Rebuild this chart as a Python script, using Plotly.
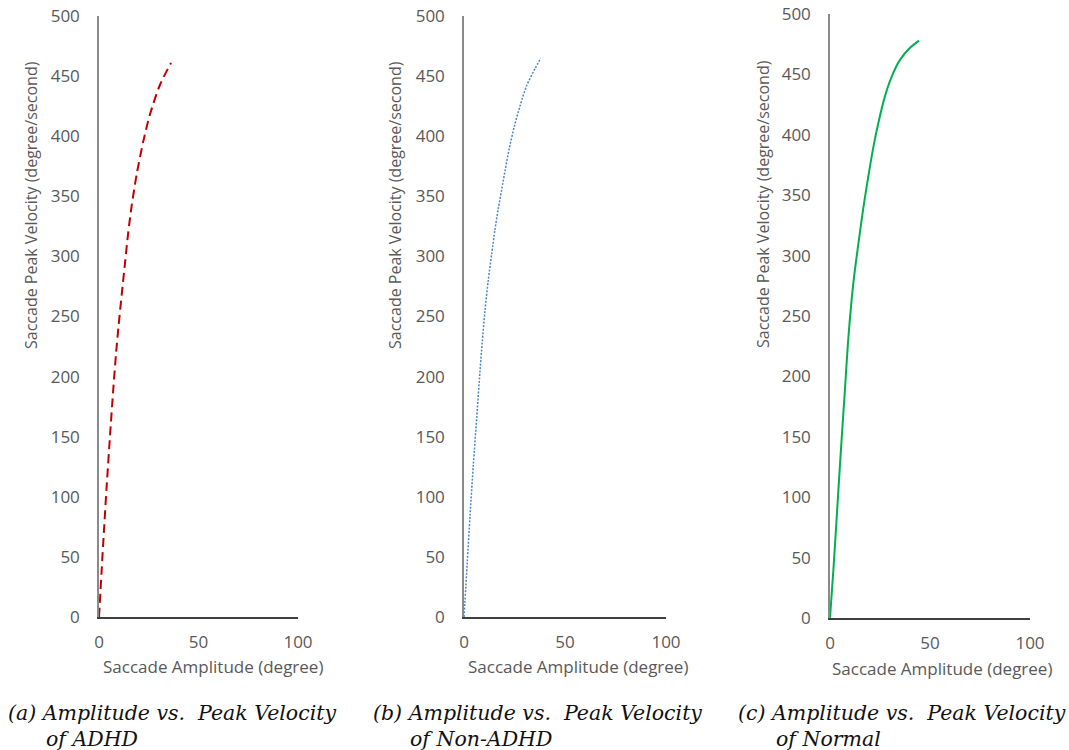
import plotly.graph_objects as go

# ---- data ----
amp_adhd = [0, 1.3, 2.5, 3.9, 5.5, 7.2, 8.6, 9.7, 11.4, 13.1, 14.7, 16.4, 18.9, 22.3, 25.6, 30.7, 36.2]
vel_adhd = [0, 38, 72, 110, 150, 190, 220, 240, 268, 295, 320, 342, 368, 396, 418, 443, 461]

amp_non = [0, 1.6, 3.0, 4.6, 6.3, 7.9, 9.0, 10.4, 12.0, 13.7, 15.3, 17.0, 18.7, 20.3, 22.3, 24.9, 27.7, 31.0, 35.1, 38.0]
vel_non = [0, 45, 85, 126, 166, 204, 228, 255, 280, 302, 322, 340, 356, 371, 389, 408, 425, 442, 456, 465]

amp_norm = [0, 1.7, 3.3, 5.3, 7.5, 9.0, 10.5, 12.0, 14.2, 16.7, 19.2, 21.7, 24.2, 27.5, 30.8, 35.0, 40.0, 44.5]
vel_norm = [0, 40, 82, 135, 190, 228, 258, 282, 310, 340, 366, 390, 410, 432, 448, 462, 472, 478]

x_ticks = [0, 50, 100]
y_ticks = [0, 50, 100, 150, 200, 250, 300, 350, 400, 450, 500]

x_title = "Saccade Amplitude (degree)"
y_title = "Saccade Peak Velocity (degree/second)"
captions = [("(a) Amplitude vs.&nbsp; Peak Velocity", "of ADHD"),
            ("(b) Amplitude vs.&nbsp; Peak Velocity", "of Non-ADHD"),
            ("(c) Amplitude vs.&nbsp; Peak Velocity", "of Normal")]

W, H = 1069, 750
TICK_COLOR = "#595959"
FONT = "Open Sans"
CAP_FONT = "DejaVu Serif"


def px(x):
    return x / W


def py(y):
    return 1 - y / H


fig = go.Figure()

fig.add_trace(go.Scatter(x=amp_adhd, y=vel_adhd, mode="lines", xaxis="x", yaxis="y",
                         line=dict(color="#C00000", width=2, dash="9px,5px", shape="spline", smoothing=0.8),
                         showlegend=False))
fig.add_trace(go.Scatter(x=amp_non, y=vel_non, mode="lines", xaxis="x2", yaxis="y2",
                         line=dict(color="#4A86C8", width=1.5, dash="2px,1.5px", shape="spline", smoothing=0.8),
                         showlegend=False))
fig.add_trace(go.Scatter(x=amp_norm, y=vel_norm, mode="lines", xaxis="x3", yaxis="y3",
                         line=dict(color="#00B050", width=2, shape="spline", smoothing=0.8),
                         showlegend=False))

# panel pixel geometry: (x0px, x100px, y0px, y500px)
panels = [(99, 298, 617, 16), (464, 666, 617, 16), (830, 1030, 618, 14)]

layout = dict(width=W, height=H, margin=dict(l=0, r=0, t=0, b=0, autoexpand=False),
              paper_bgcolor="white", plot_bgcolor="white", showlegend=False)

for i, (x0, x1, y0, y1) in enumerate(panels):
    sfx = "" if i == 0 else str(i + 1)
    xd = [px(x0), px(x1)]
    yd = [py(y0), py(y1)]
    layout["xaxis" + sfx] = dict(domain=xd, range=[0, 100], tickvals=x_ticks, anchor="y" + sfx,
                                 showgrid=False, zeroline=False, showline=True,
                                 linecolor="#404040", linewidth=1.5, ticks="",
                                 ticklabelstandoff=9, automargin=False, ticklabeloverflow="allow",
                                 tickfont=dict(family=FONT, size=17, color=TICK_COLOR))
    layout["yaxis" + sfx] = dict(domain=yd, range=[0, 500], tickvals=y_ticks, anchor="x" + sfx,
                                 showgrid=False, zeroline=False, showline=True,
                                 linecolor="#8a8a8a", linewidth=1.5, ticks="",
                                 ticklabelstandoff=14, automargin=False, ticklabeloverflow="allow",
                                 tickfont=dict(family=FONT, size=17, color=TICK_COLOR))

fig.update_layout(**layout)

# axis titles
xt_pos = [(213, 666), (578, 666), (942, 668)]
yt_pos = [(31, 205), (395, 205), (763, 204)]
for (cx, cy) in xt_pos:
    fig.add_annotation(text=x_title, x=px(cx), y=py(cy), xref="paper", yref="paper",
                       showarrow=False, xanchor="center", yanchor="middle",
                       font=dict(family=FONT, size=17, color=TICK_COLOR))
for (cx, cy) in yt_pos:
    fig.add_annotation(text=y_title, x=px(cx), y=py(cy), xref="paper", yref="paper",
                       showarrow=False, xanchor="center", yanchor="middle", textangle=-90,
                       font=dict(family=FONT, size=16, color=TICK_COLOR))

# captions
cap_pos = [(7, 45), (372, 409), (737, 775)]
for (l1, l2), (xa, xb) in zip(captions, cap_pos):
    fig.add_annotation(text="<i>" + l1 + "</i>", x=px(xa), y=py(713), xref="paper", yref="paper",
                       showarrow=False, xanchor="left", yanchor="middle", xshift=-1,
                       font=dict(family=CAP_FONT, size=20.5, color="#111111"))
    fig.add_annotation(text="<i>" + l2 + "</i>", x=px(xb), y=py(739), xref="paper", yref="paper",
                       showarrow=False, xanchor="left", yanchor="middle", xshift=-1,
                       font=dict(family=CAP_FONT, size=20.5, color="#111111"))

fig.write_html("out.html", config={"displayModeBar": False},
               post_script="document.body.style.margin='0';document.body.style.overflow='hidden';")
